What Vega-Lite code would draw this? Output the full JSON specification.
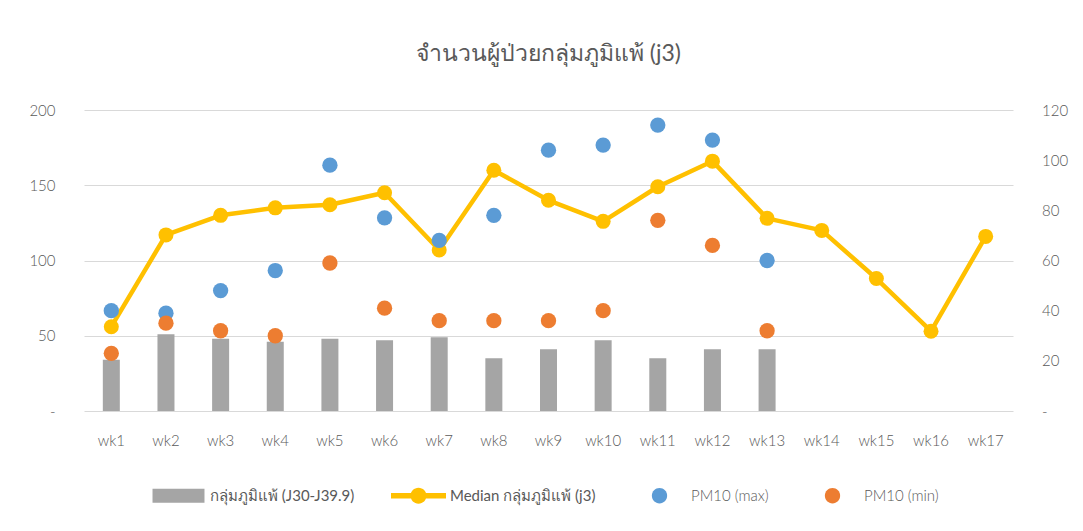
{
  "$schema": "https://vega.github.io/schema/vega-lite/v6.json",
  "autosize": {"type": "none"},
  "width": 929,
  "height": 301,
  "padding": {"left": 84, "top": 110, "right": 70, "bottom": 120},
  "background": "white",
  "title": {
    "text": "จำนวนผู้ป่วยกลุ่มภูมิแพ้ (j3)",
    "font": "Lato",
    "fontSize": 23,
    "fontWeight": "normal",
    "color": "#595959",
    "anchor": "middle",
    "offset": 37
  },
  "data": {
    "values": [
      {"week": "wk1", "cases": 34, "median": 56, "pmmax": 40, "pmmin": 23},
      {"week": "wk2", "cases": 51, "median": 117, "pmmax": 39, "pmmin": 35},
      {"week": "wk3", "cases": 48, "median": 130, "pmmax": 48, "pmmin": 32},
      {"week": "wk4", "cases": 46, "median": 135, "pmmax": 56, "pmmin": 30},
      {"week": "wk5", "cases": 48, "median": 137, "pmmax": 98, "pmmin": 59},
      {"week": "wk6", "cases": 47, "median": 145, "pmmax": 77, "pmmin": 41},
      {"week": "wk7", "cases": 49, "median": 107, "pmmax": 68, "pmmin": 36},
      {"week": "wk8", "cases": 35, "median": 160, "pmmax": 78, "pmmin": 36},
      {"week": "wk9", "cases": 41, "median": 140, "pmmax": 104, "pmmin": 36},
      {"week": "wk10", "cases": 47, "median": 126, "pmmax": 106, "pmmin": 40},
      {"week": "wk11", "cases": 35, "median": 149, "pmmax": 114, "pmmin": 76},
      {"week": "wk12", "cases": 41, "median": 166, "pmmax": 108, "pmmin": 66},
      {"week": "wk13", "cases": 41, "median": 128, "pmmax": 60, "pmmin": 32},
      {"week": "wk14", "cases": null, "median": 120, "pmmax": null, "pmmin": null},
      {"week": "wk15", "cases": null, "median": 88, "pmmax": null, "pmmin": null},
      {"week": "wk16", "cases": null, "median": 53, "pmmax": null, "pmmin": null},
      {"week": "wk17", "cases": null, "median": 116, "pmmax": null, "pmmin": null}
    ]
  },
  "encoding": {
    "x": {
      "field": "week",
      "type": "nominal",
      "sort": null,
      "scale": {"paddingInner": 0, "paddingOuter": 0},
      "axis": {
        "title": null,
        "labelAngle": 0,
        "domain": false,
        "ticks": false,
        "grid": false,
        "labelPadding": 22,
        "labelFont": "Lato",
        "labelFontSize": 15,
        "labelFontWeight": 300,
        "labelColor": "#595959"
      }
    }
  },
  "layer": [
    {
      "encoding": {
        "y": {
          "type": "quantitative",
          "scale": {"domain": [0, 200], "nice": false},
          "axis": {
            "title": null,
            "orient": "left",
            "values": [0, 50, 100, 150, 200],
            "labelExpr": "datum.value === 0 ? '-\u2007' : datum.label",
            "grid": true,
            "gridColor": "#D9D9D9",
            "gridWidth": 1.2,
            "domain": false,
            "ticks": false,
            "labelPadding": 29,
            "labelFont": "Lato",
            "labelFontSize": 15,
            "labelFontWeight": 300,
            "labelColor": "#595959"
          }
        }
      },
      "layer": [
        {
          "mark": {"type": "bar", "size": 17},
          "encoding": {
            "y": {"field": "cases", "type": "quantitative"},
            "color": {
              "datum": "กลุ่มภูมิแพ้ (J30-J39.9)",
              "scale": {
                "domain": ["กลุ่มภูมิแพ้ (J30-J39.9)", "Median กลุ่มภูมิแพ้ (j3)", "PM10 (max)", "PM10 (min)"],
                "range": ["#A5A5A5", "#FFC000", "#5B9BD5", "#ED7D31"]
              },
              "legend": {
                "orient": "none",
                "legendX": 67,
                "legendY": 358,
                "direction": "horizontal",
                "title": null,
                "padding": 0,
                "symbolSize": 3025,
                "symbolStrokeWidth": 0,
                "labelFont": "Lato",
                "labelFontSize": 15,
                "labelColor": "#595959",
                "labelOffset": 4,
                "columnPadding": 36,
                "labelLimit": 400,
                "encode": {
                  "labels": {
                    "update": {
                      "fontWeight": {"signal": "indexof(datum.value, 'PM10') === 0 ? 300 : 400"}
                    }
                  },
                  "symbols": {
                    "update": {
                      "shape": {"signal": "datum.value === 'กลุ่มภูมิแพ้ (J30-J39.9)' ? 'M-0.945,-0.255H0.945V0.255H-0.945Z' : datum.value === 'Median กลุ่มภูมิแพ้ (j3)' ? 'M-1,-0.1H1V0.1H-1Z M-0.29,0A0.29,0.29 0 1,1 0.29,0A0.29,0.29 0 1,1 -0.29,0Z' : 'M-0.278,0A0.278,0.278 0 1,1 0.278,0A0.278,0.278 0 1,1 -0.278,0Z'"},
                      "fill": {"signal": "datum.value === 'กลุ่มภูมิแพ้ (J30-J39.9)' ? '#A5A5A5' : datum.value === 'Median กลุ่มภูมิแพ้ (j3)' ? '#FFC000' : datum.value === 'PM10 (max)' ? '#5B9BD5' : '#ED7D31'"},
                      "stroke": {"value": "transparent"},
                      "strokeWidth": {"value": 0},
                      "opacity": {"value": 1},
                      "fillOpacity": {"value": 1}
                    }
                  }
                }
              }
            }
          }
        },
        {
          "mark": {
            "type": "line",
            "strokeWidth": 4.5,
            "strokeJoin": "round",
            "strokeCap": "round",
            "point": {"filled": true, "size": 225, "opacity": 1}
          },
          "encoding": {
            "y": {"field": "median", "type": "quantitative"},
            "color": {"datum": "Median กลุ่มภูมิแพ้ (j3)"}
          }
        }
      ]
    },
    {
      "encoding": {
        "y": {
          "type": "quantitative",
          "scale": {"domain": [0, 120], "nice": false},
          "axis": {
            "title": null,
            "orient": "right",
            "values": [0, 20, 40, 60, 80, 100, 120],
            "labelExpr": "datum.value === 0 ? '-' : datum.label",
            "grid": false,
            "domain": false,
            "ticks": false,
            "labelPadding": 28.5,
            "labelFont": "Lato",
            "labelFontSize": 15,
            "labelFontWeight": 300,
            "labelColor": "#595959"
          }
        }
      },
      "layer": [
        {
          "mark": {"type": "point", "filled": true, "size": 234, "opacity": 1},
          "encoding": {
            "y": {"field": "pmmax", "type": "quantitative"},
            "color": {"datum": "PM10 (max)"}
          }
        },
        {
          "mark": {"type": "point", "filled": true, "size": 234, "opacity": 1},
          "encoding": {
            "y": {"field": "pmmin", "type": "quantitative"},
            "color": {"datum": "PM10 (min)"}
          }
        }
      ]
    }
  ],
  "resolve": {"scale": {"y": "independent"}},
  "config": {
    "view": {"stroke": null},
    "font": "Lato"
  }
}
